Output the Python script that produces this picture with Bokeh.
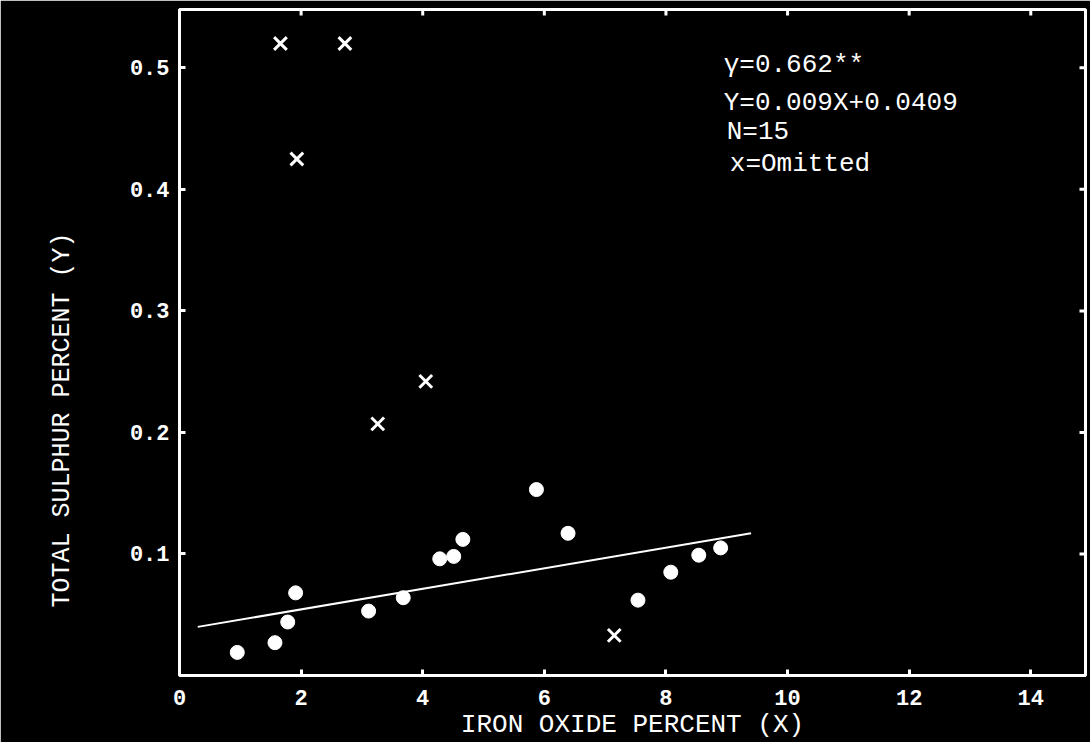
import math
from bokeh.plotting import figure
from bokeh.models import ColumnDataSource, LinearAxis, Range1d, FixedTicker, Title
from bokeh.embed import file_html
from bokeh.resources import INLINE
from bokeh.core.properties import value

# ---- data ----
iron_oxide = [0.95, 1.57, 1.78, 1.91, 3.11, 3.68, 4.28, 4.51, 4.66, 5.87, 6.39, 7.54, 8.08, 8.54, 8.90]
sulphur = [0.019, 0.027, 0.044, 0.068, 0.053, 0.064, 0.096, 0.098, 0.112, 0.153, 0.117, 0.062, 0.085, 0.099, 0.105]
omitted_x = [1.66, 2.72, 1.93, 3.26, 4.05, 7.15]
omitted_y = [0.520, 0.520, 0.425, 0.207, 0.242, 0.033]
fit_x = [0.3, 9.4]
fit_y = [0.040, 0.117]
x_ticks = [0, 2, 4, 6, 8, 10, 12, 14]
y_ticks = [0.1, 0.2, 0.3, 0.4, 0.5]
notes = ["γ=0.662**", "Y=0.009X+0.0409", "N=15", "x=Omitted"]
x_title = "IRON OXIDE PERCENT (X)"
y_title = "TOTAL SULPHUR PERCENT (Y)"

X_MAX, Y_MAX = 14.9, 0.548
FONT = "Liberation Mono"
WHITE = "white"

p = figure(width=1090, height=742, output_backend="svg", toolbar_location=None,
           x_range=Range1d(0, X_MAX), y_range=Range1d(0, Y_MAX),
           x_axis_location=None, y_axis_location=None,
           min_border_left=176, min_border_right=5, min_border_top=9, min_border_bottom=62)
p.background_fill_color = "black"
p.border_fill_color = "black"
p.outline_line_color = WHITE
p.outline_line_width = 3
p.xgrid.visible = False
p.ygrid.visible = False

def style(ax):
    ax.axis_line_color = WHITE
    ax.axis_line_width = 3
    ax.major_tick_line_color = WHITE
    ax.major_tick_line_width = 3
    ax.major_tick_in = 6
    ax.major_tick_out = 0
    ax.minor_tick_line_color = None
    ax.major_label_text_color = WHITE
    ax.major_label_text_font = FONT
    ax.major_label_text_font_style = "bold"
    ax.major_label_text_font_size = "22px"
    ax.axis_label_text_color = WHITE
    ax.axis_label_text_font = FONT
    ax.axis_label_text_font_style = "normal"

xb = LinearAxis(ticker=FixedTicker(ticks=x_ticks))
style(xb)
xb.major_label_standoff = 14
xb.axis_label = x_title
xb.axis_label_text_font_size = "26px"
xb.axis_label_standoff = 2
p.add_layout(xb, "below")

yl = LinearAxis(ticker=FixedTicker(ticks=y_ticks))
style(yl)
yl.major_label_standoff = 10
p.add_layout(yl, "left")

# y title: placed lower than the frame centre and further out, as in the reference
yt = Title(text=y_title, align="left", vertical_align="top", offset=68, standoff=95,
           text_color=WHITE, text_font=FONT, text_font_style="normal", text_font_size="25px")
p.add_layout(yt, "left")

# inner tick marks on the top and right frame edges
top_ticks = [t for t in x_ticks if t > 0]
p.scatter(top_ticks, [Y_MAX] * len(top_ticks), marker="dash", angle=math.pi / 2,
          size=12, line_color=WHITE, line_width=3)
p.scatter([X_MAX] * len(y_ticks), y_ticks, marker="dash", size=12, line_color=WHITE, line_width=3)

src = ColumnDataSource(dict(x=iron_oxide, y=sulphur))
p.scatter("x", "y", source=src, marker="circle", size=14, fill_color=WHITE, line_color=WHITE)
src2 = ColumnDataSource(dict(x=omitted_x, y=omitted_y))
p.scatter("x", "y", source=src2, marker="x", size=18, line_color=WHITE, line_width=3)
p.line(fit_x, fit_y, line_color=WHITE, line_width=2)

note_x = [8.95, 8.95, 9.0, 9.05]
note_y = [0.502, 0.471, 0.447, 0.421]
p.text(x=note_x, y=note_y, text=notes, text_color=WHITE, text_font=value(FONT),
       text_font_size="26px", text_baseline="middle", text_align="left")

open("out.html", "w").write(file_html(p, INLINE))
